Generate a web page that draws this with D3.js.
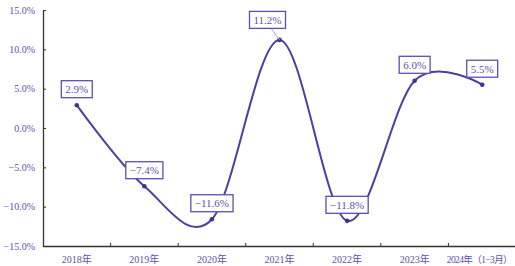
<!DOCTYPE html>
<html>
<head>
<meta charset="utf-8">
<script src="https://cdn.jsdelivr.net/npm/d3@7"></script>
<style>
  body { margin: 0; background: #fff; }
  .axis text { font-family: "Liberation Serif", "Noto Sans CJK SC", serif; fill: #5a52ad; font-size: 10px; }
  .axis path, .axis line { stroke: #333; }
</style>
</head>
<body>
<div id="container"></div>
<script>
// chart data
var years = ["2018年", "2019年", "2020年", "2021年", "2022年", "2023年", "2024年（1−3月）"];
var growth = [2.9, -7.4, -11.6, 11.2, -11.8, 6.0, 5.5];
var yTicks = [-15, -10, -5, 0, 5, 10, 15];

var width = 515, height = 266;
var margin = { top: 10, right: 0, bottom: 20, left: 43 };

var svg = d3.select('#container').append('svg')
    .attr('width', width).attr('height', height);

var x = d3.scaleBand().domain(years).range([margin.left, 516]);
var y = d3.scaleLinear().domain([-15, 15]).range([height - margin.bottom, margin.top]);

var fmt = function (v) { return d3.format('.1f')(v).replace('-', '−') + '%'; };

// y axis
var yAxis = d3.axisLeft(y).tickValues(yTicks).tickSizeInner(-3).tickSizeOuter(0).tickPadding(8).tickFormat(fmt);
var gy = svg.append('g').attr('class', 'axis').attr('transform', 'translate(' + margin.left + ',0)').call(yAxis);
gy.select('.domain').attr('stroke-width', 1.3);

// x axis with ticks on band boundaries
var xAxis = d3.axisBottom(x).tickSize(0).tickPadding(10);
var gx = svg.append('g').attr('class', 'axis').attr('transform', 'translate(0,' + y(-15) + ')').call(xAxis);
gx.select('.domain').attr('stroke-width', 1.3);
// last label is long, squeeze it a bit so it fits
gx.selectAll('.tick').filter(function (d, i) { return i === years.length - 1; })
    .select('text').style('font-size', '9.5px').style('letter-spacing', '-0.6px')
    .attr('text-anchor', 'end').attr('x', 512 - (x(years[6]) + x.bandwidth() / 2));
gx.selectAll('.bnd').data(years.slice(1)).enter().append('line')
    .attr('x1', function (d) { return x(d); }).attr('x2', function (d) { return x(d); })
    .attr('y1', 0).attr('y2', -3).attr('stroke', '#333');

var cx = function (i) { return x(years[i]) + x.bandwidth() / 2; };

var line = d3.line()
    .x(function (d, i) { return cx(i); })
    .y(function (d) { return y(d); })
    .curve(d3.curveCardinal.tension(0));

svg.append('path').datum(growth)
    .attr('d', line).attr('fill', 'none')
    .attr('stroke', '#4b3fa3').attr('stroke-width', 2);

svg.selectAll('.dot').data(growth).enter().append('circle')
    .attr('cx', function (d, i) { return cx(i); })
    .attr('cy', function (d) { return y(d); })
    .attr('r', 2.3).attr('fill', '#3f358f');

// data labels
var lbl = svg.selectAll('.lbl').data(growth).enter().append('g');
lbl.each(function (d, i) {
    var g = d3.select(this);
    var px = cx(i), py = y(d);
    var lx = px, ly = py - 16;
    if (i === 3) { lx = px - 12; ly = py - 20; }
    if (i === 3) {
        g.append('line').attr('x1', lx + 4).attr('y1', ly + 9).attr('x2', px).attr('y2', py)
            .attr('stroke', '#aaa').attr('stroke-width', 1);
    }
    var t = g.append('text').attr('x', lx).attr('y', ly + 4)
        .attr('text-anchor', 'middle')
        .style('font-family', '"Liberation Serif", serif').style('font-size', '11px')
        .attr('fill', '#5a52ad').text(fmt(d));
    var w = t.node().getComputedTextLength() + 8;
    g.insert('rect', 'text').attr('x', lx - w / 2).attr('y', ly - 8.5).attr('width', w).attr('height', 17)
        .attr('fill', '#fff').attr('stroke', '#5a4fb3').attr('stroke-width', 1.3);
});
</script>
</body>
</html>
